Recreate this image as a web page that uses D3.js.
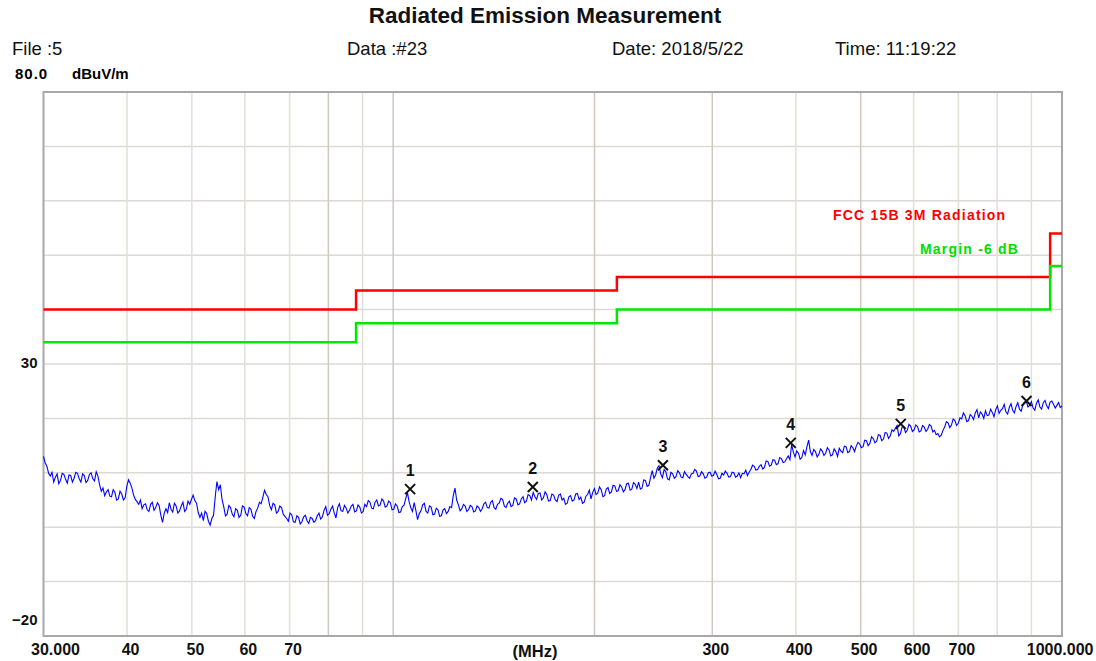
<!DOCTYPE html>
<html>
<head>
<meta charset="utf-8">
<title>Radiated Emission Measurement</title>
<script src="https://cdn.jsdelivr.net/npm/d3@7"></script>
<style>
   body { margin: 0; background: #fff; }
   svg { display: block; font-family: 'Liberation Sans', Arial, sans-serif; }
</style>
</head>
<body>
<svg id="chart" width="1096" height="661"></svg>
<script>
/** DATA **/
// sweep settings of the receiver (MHz), log spaced points
var sweepStart = 30, sweepStop = 1000;

var traceLevel = [
   13.0, 11.8, 11.2, 9.9, 9.4, 10.1, 8.3, 9.2, 9.8, 8.0, 8.6, 9.9, 9.7, 8.8, 8.1, 9.6, 9.5, 8.3, 9.0, 10.1,
   9.9, 8.9, 8.3, 9.8, 9.5, 8.2, 8.6, 9.7, 10.0, 8.9, 8.5, 10.2, 9.4, 7.8, 6.6, 7.2, 5.8, 6.5, 6.9, 5.7,
   5.6, 6.9, 6.4, 5.0, 5.2, 6.6, 6.1, 5.0, 5.4, 7.5, 8.7, 8.1, 7.2, 5.9, 5.1, 4.7, 4.2, 5.0, 3.4, 4.1,
   4.3, 3.2, 2.9, 4.2, 4.6, 3.1, 3.6, 4.5, 4.0, 2.2, 0.9, 2.6, 3.4, 2.7, 4.5, 3.3, 2.8, 4.4, 3.9, 2.6,
   3.0, 3.9, 4.6, 2.9, 3.3, 4.8, 4.2, 5.1, 5.9, 4.9, 4.4, 2.7, 1.8, 2.6, 1.2, 2.9, 2.5, 1.1, 0.4, 1.6,
   2.2, 5.6, 8.4, 6.9, 7.8, 5.1, 3.8, 2.1, 2.4, 4.0, 3.6, 2.4, 1.9, 3.4, 3.1, 1.8, 2.2, 3.9, 3.7, 2.5,
   2.1, 3.6, 3.3, 2.0, 1.6, 2.9, 3.5, 4.6, 4.3, 5.5, 6.8, 6.0, 5.6, 4.0, 3.2, 4.4, 4.1, 2.6, 2.9, 3.9,
   3.6, 2.4, 2.0, 1.6, 1.1, 2.6, 2.3, 1.0, 0.9, 2.1, 1.8, 0.6, 1.0, 1.9, 2.2, 1.2, 0.7, 1.8, 1.6, 0.9,
   1.2, 2.1, 2.6, 1.5, 1.9, 3.1, 3.8, 2.2, 2.5, 3.3, 3.9, 2.6, 1.7, 3.6, 4.3, 3.0, 2.9, 4.0, 3.5, 2.6,
   3.1, 3.9, 4.2, 2.8, 3.0, 4.1, 3.7, 2.6, 2.9, 4.2, 3.8, 4.9, 4.6, 3.5, 3.4, 4.6, 5.0, 3.9, 4.1, 5.2,
   4.8, 3.7, 3.9, 4.8, 4.5, 3.2, 3.3, 4.3, 3.9, 2.7, 2.8, 3.8, 4.0, 5.2, 6.4, 4.7, 3.6, 2.9, 4.5, 3.1,
   1.4, 2.5, 3.0, 4.1, 4.4, 2.9, 2.6, 3.9, 3.7, 2.3, 2.4, 3.5, 3.2, 2.0, 2.1, 3.2, 3.4, 2.5, 2.9, 3.8,
   3.6, 5.8, 7.2, 5.0, 4.1, 3.0, 3.4, 4.2, 3.9, 2.9, 3.2, 4.0, 3.8, 2.8, 3.0, 3.9, 3.6, 2.9, 3.4, 4.3,
   4.6, 3.6, 3.5, 4.6, 4.9, 3.6, 3.3, 4.2, 4.4, 5.3, 5.1, 3.9, 3.6, 4.4, 4.8, 3.8, 4.0, 5.4, 5.2, 4.1,
   4.3, 5.2, 5.6, 4.5, 4.8, 6.0, 5.8, 5.0, 6.4, 5.6, 5.1, 6.2, 6.3, 5.0, 5.4, 6.5, 6.0, 4.8, 4.9, 6.1,
   5.9, 5.0, 4.7, 5.9, 6.1, 5.0, 5.3, 4.2, 4.4, 5.6, 5.8, 4.8, 5.0, 6.1, 6.2, 5.1, 5.5, 4.4, 4.6, 5.7,
   6.0, 6.8, 5.2, 6.4, 7.1, 6.0, 6.3, 7.4, 6.9, 5.6, 5.8, 7.0, 7.3, 6.2, 6.5, 7.7, 7.6, 6.6, 6.7, 7.8,
   7.4, 6.5, 6.9, 8.0, 8.1, 6.8, 7.0, 8.2, 7.9, 7.1, 8.3, 7.0, 7.2, 8.7, 8.6, 7.5, 7.7, 9.1, 10.4, 9.0,
   9.6, 10.9, 11.3, 9.8, 9.1, 10.6, 10.2, 8.9, 8.7, 10.1, 9.8, 9.0, 9.3, 10.4, 10.0, 9.2, 9.1, 10.2, 9.7, 9.3,
   9.0, 9.8, 9.9, 10.6, 10.3, 9.3, 9.4, 10.2, 9.8, 9.0, 9.2, 10.0, 10.1, 9.4, 9.5, 10.3, 9.7, 8.9, 9.0, 9.9,
   9.6, 10.3, 9.9, 9.2, 9.3, 10.1, 10.0, 9.2, 9.4, 10.0, 9.1, 9.9, 9.8, 10.5, 9.5, 10.1, 10.6, 11.4, 11.2, 10.5,
   10.6, 11.2, 11.5, 10.7, 11.0, 12.2, 12.1, 11.2, 11.4, 12.4, 12.3, 11.5, 11.7, 12.8, 12.6, 11.9, 12.0, 12.6, 13.1, 12.4,
   15.2, 13.8, 12.9, 14.0, 13.6, 12.5, 12.8, 14.1, 13.3, 14.8, 16.0, 13.9, 13.2, 14.3, 13.9, 12.9, 13.4, 14.4, 14.0, 13.2,
   13.6, 14.6, 14.2, 13.1, 13.3, 14.4, 13.9, 13.0, 14.5, 14.0, 13.7, 14.9, 14.8, 13.7, 13.9, 15.0, 14.6, 13.9, 14.9, 15.6,
   15.3, 14.6, 14.8, 16.0, 15.9, 15.0, 15.4, 16.6, 16.3, 15.5, 15.8, 17.0, 16.9, 15.9, 16.2, 17.4, 17.3, 16.3, 16.8, 17.9,
   17.6, 18.2, 18.7, 16.8, 17.2, 18.5, 18.3, 17.4, 17.8, 18.9, 18.6, 17.6, 17.9, 18.8, 18.5, 17.5, 17.7, 18.7, 18.4, 17.6,
   18.0, 18.9, 18.6, 17.5, 17.8, 17.0, 17.2, 16.6, 16.9, 17.8, 18.4, 19.4, 19.2, 18.3, 18.8, 19.9, 19.6, 18.7, 19.1, 20.1,
   19.9, 21.0, 20.5, 19.4, 19.6, 20.7, 20.4, 19.8, 21.0, 21.6, 20.1, 21.2, 20.8, 20.0, 21.4, 20.5, 20.6, 21.7, 21.1, 20.3,
   21.6, 22.3, 20.9, 21.5, 21.8, 22.6, 21.2, 20.8, 22.0, 22.7, 21.5, 21.0, 22.2, 22.9, 21.7, 21.3, 22.5, 23.0, 23.2, 22.1,
   22.4, 23.1, 21.9, 21.5, 22.8, 23.4, 22.1, 21.7, 22.9, 23.3, 22.3, 21.8, 23.0, 23.2, 22.6, 21.9, 22.4, 22.9, 22.0, 22.3
];

// FCC part 15B class B, 3 m
var limitFreq = [30, 88, 216, 960, 1000];
var limitLevel = [40, 43.5, 46, 54, 54];
var marginLevel = [34, 37.5, 40, 48, 48];

var markerFreq = [106.0, 161.7, 253.1, 393.0, 574.0, 885.0];
var markerLevel = [7.0, 7.4, 11.4, 15.5, 19.0, 23.2];
var markerNames = ['1', '2', '3', '4', '5', '6'];

var xTicks = [30, 40, 50, 60, 70, 300, 400, 500, 600, 700, 1000];
var xGrid = [40, 50, 60, 70, 80, 90, 100, 200, 300, 400, 500, 600, 700, 800, 900];
var xGridDark = [80, 100, 200, 300, 500];
var yTicks = [30, -20];
var yGrid = [70, 60, 50, 40, 30, 20, 10, 0, -10];

var title = 'Radiated Emission Measurement';
var headerTexts = ['File :5', 'Data :#23', 'Date: 2018/5/22', 'Time: 11:19:22'];
var headerX = [12, 347, 612, 835];

/** CHART **/
(function(){
   var svg = d3.select('#chart');
   var left = 43.5, right = 1062, plotTop = 92, bottom = 636;

   var x = d3.scaleLog().domain([sweepStart, sweepStop]).range([left, right]);
   var y = d3.scaleLinear().domain([-20, 80]).range([bottom, plotTop]);

   var traceFreq = traceLevel.map(function(d, i){
      return sweepStart * Math.pow(sweepStop / sweepStart, i / (traceLevel.length - 1));
   });

   // texts on top
   svg.append('text')
      .attr('x', 545).attr('y', 23)
      .attr('text-anchor', 'middle')
      .style('font-size', '22.5px').style('font-weight', 'bold')
      .style('fill', '#111')
      .text(title);

   svg.selectAll('.head')
      .data(headerTexts)
      .enter()
      .append('text')
      .attr('class', 'head')
      .attr('x', function(d, i){ return headerX[i]; })
      .attr('y', 55)
      .style('font-size', '18.5px')
      .style('fill', '#111')
      .text(function(d){ return d; });

   svg.append('text')
      .attr('x', 15).attr('y', 79)
      .style('font-size', '15px').style('font-weight', 'bold').style('letter-spacing', '1px')
      .text('80.0');
   svg.append('text')
      .attr('x', 72).attr('y', 79)
      .style('font-size', '15px').style('font-weight', 'bold')
      .text('dBuV/m');

   // grid
   svg.append('g')
      .selectAll('line')
      .data(yGrid)
      .enter()
      .append('line')
      .attr('x1', left).attr('x2', right)
      .attr('y1', function(d){ return y(d); })
      .attr('y2', function(d){ return y(d); })
      .style('stroke', '#dedad3')
      .style('stroke-width', 1.5);

   svg.append('g')
      .selectAll('line')
      .data(xGrid)
      .enter()
      .append('line')
      .attr('x1', function(d){ return x(d); })
      .attr('x2', function(d){ return x(d); })
      .attr('y1', plotTop).attr('y2', bottom)
      .style('stroke', function(d){ return xGridDark.indexOf(d) > -1 ? '#cdc9c1' : '#e2dfd8'; })
      .style('stroke-width', 1.5);

   // frame
   svg.append('rect')
      .attr('x', left).attr('y', plotTop)
      .attr('width', right - left).attr('height', bottom - plotTop)
      .style('fill', 'none')
      .style('stroke', '#a8a8a8')
      .style('stroke-width', 2);

   // axes
   var xAxis = svg.append('g')
      .attr('transform', 'translate(0,' + bottom + ')')
      .call(d3.axisBottom(x).tickValues(xTicks).tickSize(0).tickPadding(8)
         .tickFormat(function(d){ return (d === 30 || d === 1000) ? d3.format('.3f')(d) : d; }));
   xAxis.select('.domain').remove();
   xAxis.selectAll('text')
      .style('font-size', '16px').style('font-weight', 'bold')
      .style('font-family', "'Liberation Sans', Arial, sans-serif")
      .style('fill', '#111')
      .attr('dx', 3)
      .attr('text-anchor', function(d){ return d === 30 ? 'start' : (d === 1000 ? 'end' : 'middle'); })
      .attr('x', function(d){ return d === 30 ? -16 : (d === 1000 ? 28 : 0); });

   svg.append('text')
      .attr('x', 535).attr('y', 657)
      .attr('text-anchor', 'middle')
      .style('font-size', '16.5px').style('font-weight', 'bold')
      .style('fill', '#111')
      .text('(MHz)');

   var yAxis = svg.append('g')
      .attr('transform', 'translate(' + left + ',0)')
      .call(d3.axisLeft(y).tickValues(yTicks).tickSize(0).tickPadding(6));
   yAxis.select('.domain').remove();
   yAxis.selectAll('text')
      .style('font-size', '15px').style('font-weight', 'bold')
      .style('font-family', "'Liberation Sans', Arial, sans-serif")
      .style('fill', '#111')
      .attr('dy', function(d){ return d === -20 ? '-0.75em' : '0.2em'; });

   // limit lines
   var limitLine = d3.line()
      .x(function(d, i){ return x(limitFreq[i]); })
      .y(function(d){ return y(d); })
      .curve(d3.curveStepAfter);

   svg.append('path')
      .datum(limitLevel)
      .attr('d', limitLine)
      .style('fill', 'none').style('stroke', '#ff0000').style('stroke-width', 2.5);

   svg.append('path')
      .datum(marginLevel)
      .attr('d', limitLine)
      .style('fill', 'none').style('stroke', '#00e800').style('stroke-width', 2.5);

   svg.append('text')
      .attr('x', 833).attr('y', 220)
      .style('font-size', '14px').style('font-weight', 'bold').style('letter-spacing', '1.2px')
      .style('fill', '#ff0000')
      .text('FCC 15B 3M Radiation');
   svg.append('text')
      .attr('x', 920).attr('y', 254)
      .style('font-size', '14px').style('font-weight', 'bold').style('letter-spacing', '1.2px')
      .style('fill', '#00dd00')
      .text('Margin -6 dB');

   // trace
   var traceLine = d3.line()
      .x(function(d, i){ return x(traceFreq[i]); })
      .y(function(d){ return y(d); });

   svg.append('path')
      .datum(traceLevel)
      .attr('d', traceLine)
      .style('fill', 'none').style('stroke', '#0000ff').style('stroke-width', 1.1);

   // markers
   var markers = svg.selectAll('.marker')
      .data(markerLevel)
      .enter()
      .append('g')
      .attr('class', 'marker')
      .attr('transform', function(d, i){ return 'translate(' + x(markerFreq[i]) + ',' + y(d) + ')'; });

   markers.append('path')
      .attr('d', 'M-5,-5L5,5M-5,5L5,-5')
      .style('stroke', '#111').style('stroke-width', 2);

   markers.append('text')
      .attr('y', -13)
      .attr('text-anchor', 'middle')
      .style('font-size', '16px').style('font-weight', 'bold')
      .style('fill', '#111')
      .text(function(d, i){ return markerNames[i]; });
})();
</script>
</body>
</html>
